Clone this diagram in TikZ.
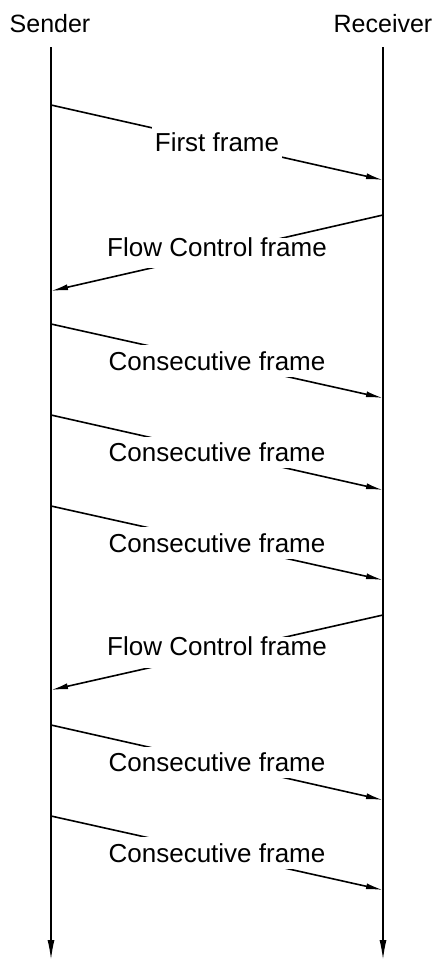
\documentclass[tikz,border=0pt]{standalone}
\usepackage{fontspec}
\setmainfont{Liberation Sans}
\usetikzlibrary{arrows.meta}
\tikzset{
  vida/.style={line width=1.6pt,-{Latex[length=20pt,width=7pt]}},
  msg/.style={line width=1.6pt,-{Latex[length=17pt,width=6pt]}},
  actor/.style={inner sep=0pt,font=\fontsize{25}{30}\selectfont},
  etiq/.style={fill=white,inner xsep=3pt,inner ysep=6pt,font=\fontsize{26}{31}\selectfont},
  fc/.style={text depth=12pt,inner ysep=0pt}
}
\begin{document}
\begin{tikzpicture}[x=1pt,y=-1pt]
   \useasboundingbox (0,0) rectangle (437,961);
   %participantes
   \node[actor] (sender) at (50,23.5) {Sender};
   \node[actor] (receiver) at (383,23.5) {Receiver};
   %lineas de vida
   \coordinate (s0) at (51,47);
   \coordinate (s9) at (51,960);
   \coordinate (r0) at (383,47);
   \coordinate (r9) at (383,960);
   \draw[vida] (s0) -- (s9);
   \draw[vida] (r0) -- (r9);
   %puntos de los mensajes
   \coordinate (s1) at (51,105);  \coordinate (r1) at (383,180);
   \coordinate (r2) at (383,215); \coordinate (s2) at (51,291);
   \coordinate (s3) at (51,324);  \coordinate (r3) at (383,398);
   \coordinate (s4) at (51,415);  \coordinate (r4) at (383,490);
   \coordinate (s5) at (51,506);  \coordinate (r5) at (383,580);
   \coordinate (r6) at (383,615); \coordinate (s6) at (51,690);
   \coordinate (s7) at (51,725);  \coordinate (r7) at (383,800);
   \coordinate (s8) at (51,816);  \coordinate (r8) at (383,890);
   %mensajes
   \draw[msg] (s1) -- node[etiq] (m1) {First frame} (r1);
   \draw[msg] (r2) -- node[etiq,fc] (m2) {Flow Control frame} (s2);
   \draw[msg] (s3) -- node[etiq] (m3) {Consecutive frame} (r3);
   \draw[msg] (s4) -- node[etiq] (m4) {Consecutive frame} (r4);
   \draw[msg] (s5) -- node[etiq] (m5) {Consecutive frame} (r5);
   \draw[msg] (r6) -- node[etiq,fc] (m6) {Flow Control frame} (s6);
   \draw[msg] (s7) -- node[etiq] (m7) {Consecutive frame} (r7);
   \draw[msg] (s8) -- node[etiq] (m8) {Consecutive frame} (r8);
\end{tikzpicture}
\end{document}
